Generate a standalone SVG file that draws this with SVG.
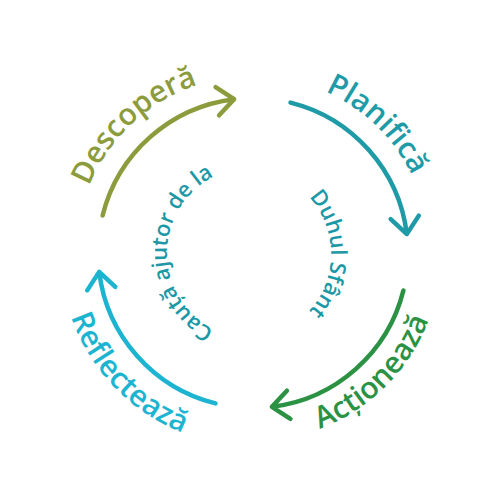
<svg xmlns="http://www.w3.org/2000/svg" xmlns:xlink="http://www.w3.org/1999/xlink" width="500" height="500" viewBox="0 0 500 500">
  <style>
    .arc { fill: none; stroke-width: 4.5; stroke-linecap: round; stroke-linejoin: round; }
    .lbl { font-family: "Open Sans", "Noto Sans", sans-serif; font-size: 30px; font-weight: 600; }
    .inner { font-family: "Open Sans", "Noto Sans", sans-serif; font-size: 22px; font-weight: 600; fill: #1c98a6; }
  </style>
  <defs>
    <path id="arcBase" d="M102.6,215.5 A155,155 0 0 1 234.1,99.2 M215.6,87.2 L234.1,99.2 L219.1,115.3"/>
    <path id="pDescopera" d="M80.5,292.8 A177,177 0 0 1 304.8,83.7"/>
    <path id="pPlanifica" d="M204.2,82.9 A177,177 0 0 1 424.7,295.8"/>
    <path id="pActioneaza" d="M204.3,434.6 A188,188 0 0 0 434.6,204.3"/>
    <path id="pReflecteaza" d="M67.5,199.8 A193,193 0 0 0 299.7,440.3"/>
    <path id="pInnerLeft" d="M253,339 A86,86 0 0 1 253,167"/>
    <path id="pInnerRight" d="M246,169 A85,85 0 0 1 246,339"/>
  </defs>
  <rect width="500" height="500" fill="#ffffff"/>
  <g id="connectors">
    <use xlink:href="#arcBase" class="arc" stroke="#8c9b3b"/>
    <use xlink:href="#arcBase" class="arc" stroke="#1e9ba6" transform="rotate(90 253 253)"/>
    <use xlink:href="#arcBase" class="arc" stroke="#2b9243" transform="rotate(180 253 253)"/>
    <use xlink:href="#arcBase" class="arc" stroke="#1db4d1" transform="rotate(270 253 253)"/>
  </g>
  <g id="descopera">
    <text class="lbl" fill="#8c9b3b"><textPath xlink:href="#pDescopera" startOffset="50%" text-anchor="middle">Descoperă</textPath></text>
  </g>
  <g id="planifica">
    <text class="lbl" fill="#1e9ba6"><textPath xlink:href="#pPlanifica" startOffset="50%" text-anchor="middle">Planifică</textPath></text>
  </g>
  <g id="actioneaza">
    <text class="lbl" fill="#2b9243"><textPath xlink:href="#pActioneaza" startOffset="50%" text-anchor="middle">Acționează</textPath></text>
  </g>
  <g id="reflecteaza">
    <text class="lbl" fill="#1db4d1"><textPath xlink:href="#pReflecteaza" startOffset="50%" text-anchor="middle">Reflectează</textPath></text>
  </g>
  <g id="center-text">
    <text class="inner"><textPath xlink:href="#pInnerLeft" startOffset="50%" text-anchor="middle">Cauță ajutor de la</textPath></text>
    <text class="inner"><textPath xlink:href="#pInnerRight" startOffset="50%" text-anchor="middle">Duhul Sfânt</textPath></text>
  </g>
</svg>
